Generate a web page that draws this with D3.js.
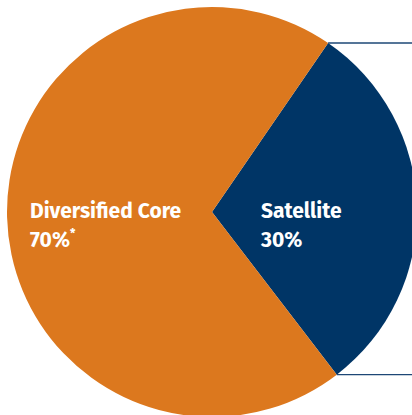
<!DOCTYPE html>
<html><head><meta charset="utf-8">
<script src="https://cdn.jsdelivr.net/npm/d3@7"></script>
<style>html,body{margin:0;padding:0;background:#fff;overflow:hidden}</style>
</head><body>
<svg id="chart" width="412" height="415"></svg>
<script>
const categories = ["Satellite", "Diversified Core"];
const values = [30, 70];
const valueLabels = ["30%", "70%"];
const footnoteMarks = ["", "*"];
const colors = ["#003566", "#DC781E"];

const W = 412, H = 415, cx = 212, cy = 212, R = 205;
const startDeg = 34.5;
const svg = d3.select("#chart");
const g = svg.append("g").attr("transform", `translate(${cx},${cy})`);

const pie = d3.pie().sort(null).value(d => d)
  .startAngle(startDeg * Math.PI / 180)
  .endAngle(startDeg * Math.PI / 180 + 2 * Math.PI);
const arcs = pie(values);
const arc = d3.arc().innerRadius(0).outerRadius(R);

g.selectAll("path.slice").data(arcs).join("path")
  .attr("class", "slice")
  .attr("d", arc)
  .attr("fill", (d, i) => colors[i]);

// leader lines from satellite slice edges to the right border
const sat = arcs[0];
[sat.startAngle, sat.endAngle].forEach(a => {
  const x = R * Math.sin(a), y = -R * Math.cos(a);
  g.append("line")
    .attr("x1", x).attr("y1", y)
    .attr("x2", W - cx).attr("y2", y)
    .attr("stroke", "#1d4776").attr("stroke-width", 1.4);
});

const font = "'Fira Sans', Lato, 'Open Sans', sans-serif";
const labelPos = [[261 - cx, 0], [30 - cx, 0]];
arcs.forEach((d, i) => {
  const t = g.append("text")
    .attr("x", labelPos[i][0]).attr("y", 217.5 - cy)
    .attr("fill", "#fff").attr("font-family", font)
    .attr("font-weight", 700).attr("font-size", 21);
  t.append("tspan").text(categories[i]);
  const t2 = g.append("text")
    .attr("x", labelPos[i][0]).attr("y", 246.5 - cy)
    .attr("fill", "#fff").attr("font-family", font)
    .attr("font-weight", 700).attr("font-size", 21);
  t2.append("tspan").text(valueLabels[i]);
  if (footnoteMarks[i]) {
    t2.append("tspan").text(footnoteMarks[i])
      .attr("font-size", 12).attr("dy", -9);
  }
});
</script>
</body></html>
